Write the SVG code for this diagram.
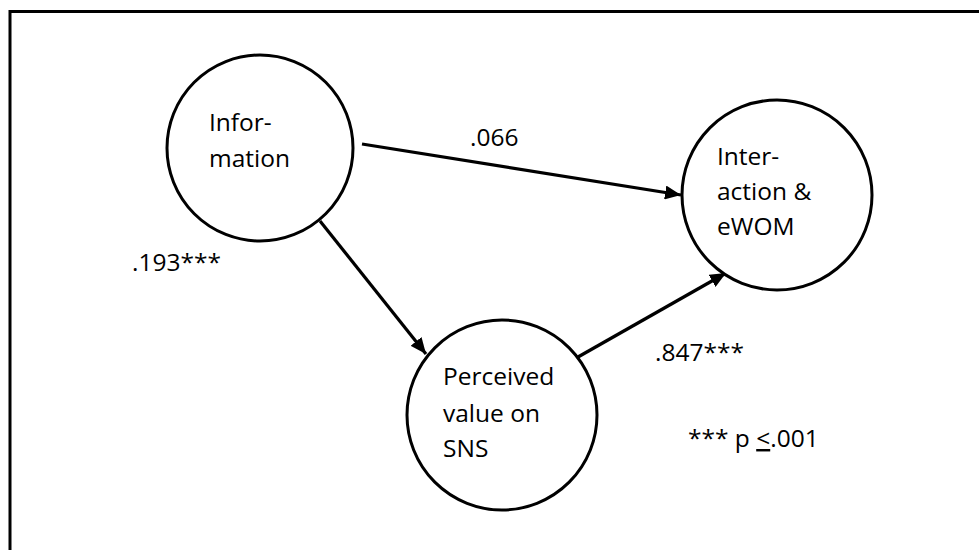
<svg xmlns="http://www.w3.org/2000/svg" width="979" height="550" viewBox="0 0 979 550">
<style>
.node{fill:#fff;stroke:#000;stroke-width:3}
.t{font-family:"Open Sans","Liberation Sans",sans-serif;font-size:24.5px;fill:#000}
.c{stroke:#000;stroke-width:3.2;fill:none;marker-end:url(#ah)}
</style>
<defs>
<marker id="ah" markerUnits="userSpaceOnUse" markerWidth="18" markerHeight="14" refX="16" refY="7" orient="auto">
<path d="M0,0 L16,7 L0,14 Z" fill="#000"/>
</marker>
</defs>
<rect x="10" y="11.5" width="1000" height="600" fill="#fff" stroke="#000" stroke-width="3"/>
<g id="connectors">
<line class="c" x1="362" y1="144" x2="681" y2="195"/>
<line class="c" x1="320" y1="221" x2="426" y2="354"/>
<line class="c" x1="578" y1="357" x2="726" y2="273"/>
</g>
<g id="information">
<circle class="node" cx="260" cy="148" r="93"/>
<text class="t" x="209" y="131">Infor-</text>
<text class="t" x="209" y="167">mation</text>
</g>
<g id="interaction">
<circle class="node" cx="777" cy="195" r="95"/>
<text class="t" x="717" y="165">Inter-</text>
<text class="t" x="717" y="200">action &amp;</text>
<text class="t" x="717" y="235">eWOM</text>
</g>
<g id="perceived">
<circle class="node" cx="502" cy="415" r="95"/>
<text class="t" x="443" y="385">Perceived</text>
<text class="t" x="443" y="422">value on</text>
<text class="t" x="443" y="457">SNS</text>
</g>
<g id="labels">
<text class="t" x="470" y="146">.066</text>
<text class="t" x="132" y="271">.193***</text>
<text class="t" x="655" y="361">.847***</text>
<text class="t" x="688" y="447">*** p <tspan text-decoration="underline">&lt;</tspan>.001</text>
</g>
</svg>
